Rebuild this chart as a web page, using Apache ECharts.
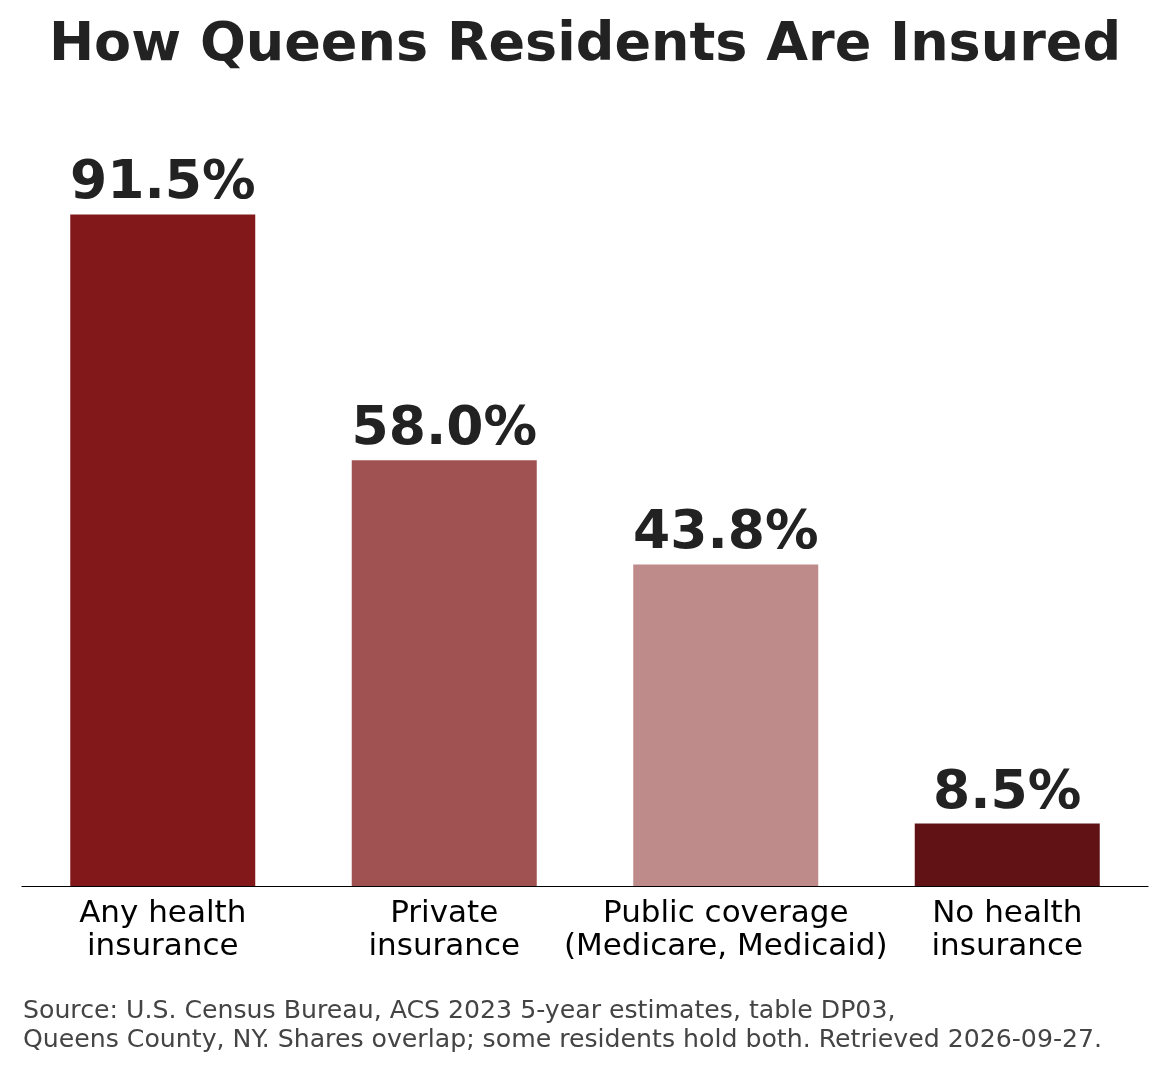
<!DOCTYPE html>
<html style="height: 100%">
  <head>
    <meta charset="utf-8" />
    <title>How Queens Residents Are Insured</title>
    <script src="https://cdn.jsdelivr.net/npm/echarts@6/dist/echarts.min.js"></script>
  </head>
  <body style="height: 100%; margin: 0; background: #fff">
    <div id="container" style="width: 1170px; height: 1066px"></div>

    <script type="text/javascript">
      var categories = [
        'Any health\ninsurance',
        'Private\ninsurance',
        'Public coverage\n(Medicare, Medicaid)',
        'No health\ninsurance'
      ];
      var shares = [91.5, 58.0, 43.8, 8.5];
      var barColors = ['#82181a', '#a05252', '#bf8a8a', '#601214'];

      var dom = document.getElementById('container');
      var myChart = echarts.init(dom);

      myChart.setOption({
        backgroundColor: '#ffffff',
        animation: false,
        title: [
          {
            text: 'How Queens Residents Are Insured',
            left: 'center',
            top: 14,
            textStyle: {
              fontFamily: 'DejaVu Sans',
              fontWeight: 'bold',
              fontSize: 54,
              color: '#222222'
            }
          },
          {
            text: 'Source: U.S. Census Bureau, ACS 2023 5-year estimates, table DP03,\nQueens County, NY. Shares overlap; some residents hold both. Retrieved 2026-09-27.',
            left: 23,
            top: 997,
            padding: 0,
            textStyle: {
              fontFamily: 'DejaVu Sans',
              fontWeight: 'normal',
              fontSize: 25.2,
              lineHeight: 29,
              color: '#444444'
            }
          }
        ],
        grid: {
          left: 22,
          right: 22,
          top: 152,
          bottom: 180
        },
        xAxis: {
          type: 'category',
          data: categories,
          axisLine: { lineStyle: { color: '#000', width: 1.2 } },
          axisTick: { alignWithLabel: true, length: 5, lineStyle: { color: '#000' } },
          axisLabel: {
            fontFamily: 'DejaVu Sans',
            fontSize: 31,
            lineHeight: 33,
            color: '#000',
            margin: 11,
            interval: 0
          }
        },
        yAxis: {
          type: 'value',
          min: 0,
          max: 100,
          show: false,
          splitLine: { show: false }
        },
        series: [
          {
            type: 'bar',
            barWidth: 185,
            data: shares.map(function (v, i) {
              return { value: v, itemStyle: { color: barColors[i] } };
            }),
            label: {
              show: true,
              position: 'top',
              distance: 3,
              formatter: function (p) { return p.value.toFixed(1) + '%'; },
              fontFamily: 'DejaVu Sans',
              fontWeight: 'bold',
              fontSize: 53.5,
              color: '#222222'
            }
          }
        ]
      });
    </script>
  </body>
</html>
